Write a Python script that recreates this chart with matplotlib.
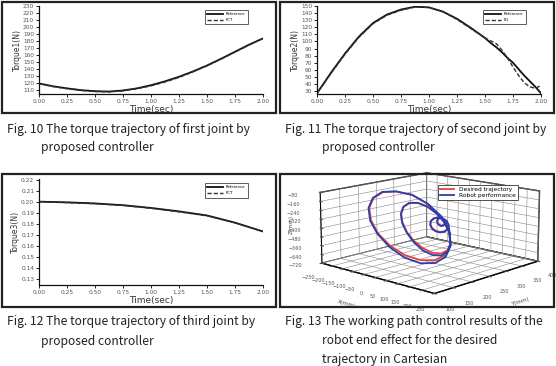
import matplotlib
matplotlib.use("Agg")
import matplotlib.pyplot as plt
from matplotlib.patches import Rectangle
from mpl_toolkits.mplot3d import Axes3D  # noqa

W, H = 556, 366

# ---------------- data ----------------
t = [0.0, 0.125, 0.25, 0.375, 0.5, 0.625, 0.75, 0.875, 1.0, 1.125, 1.25,
     1.375, 1.5, 1.625, 1.75, 1.875, 2.0]
torque1_ref = [120, 116, 113, 110.5, 109, 108.5, 110, 113, 117.5, 123, 129.5,
               137, 145.5, 155, 165, 175, 184]
torque1_fct = [119.5, 115.5, 112.5, 110, 108.5, 108, 109.5, 112.5, 116.5, 122, 128.5,
               136.5, 145, 154.5, 164.5, 174.5, 184]

t2 = [0.0, 0.125, 0.25, 0.375, 0.5, 0.625, 0.75, 0.875, 1.0, 1.125, 1.25,
      1.375, 1.5, 1.55, 1.6, 1.65, 1.7, 1.75, 1.8, 1.85, 1.9, 1.95, 2.0]
torque2_ref = [27, 56, 83, 107, 126, 138, 145, 149, 148, 142, 132,
               119, 105, 98, 92, 85, 77, 70, 61, 52, 44, 36, 27]
torque2_fd = [27, 55, 82, 106, 125, 137, 144, 148.5, 148, 142, 131,
              118, 105, 101, 97, 88, 77, 64, 52, 42, 36, 34, 38]

t3 = [0.0, 0.25, 0.5, 0.75, 1.0, 1.25, 1.5, 1.75, 2.0]
torque3_ref = [0.2000, 0.1994, 0.1984, 0.1968, 0.1943, 0.1912, 0.1875, 0.1810, 0.1730]
torque3_fct = [0.2000, 0.1991, 0.1981, 0.1966, 0.1940, 0.1908, 0.1872, 0.1808, 0.1730]

xticks_t = [0.0, 0.25, 0.5, 0.75, 1.0, 1.25, 1.5, 1.75, 2.0]
yticks1 = [110, 120, 130, 140, 150, 160, 170, 180, 190, 200, 210, 220, 230]
yticks2 = [30, 40, 50, 60, 70, 80, 90, 100, 110, 120, 130, 140, 150]
yticks3 = [0.13, 0.14, 0.15, 0.16, 0.17, 0.18, 0.19, 0.20, 0.21, 0.22]

# 3D working path (mm)
path_x = [156.6, 120.2, 61.8, -9.7, -83.9, -150.1, -198.8, -223.0, -219.1, -188.8,
          -136.7, -71.4, -3.4, 56.8, 99.3, 117.2,
          111.5, 87.8, 51.4, 7.0, -39.1, -79.9, -110.2, -125.6, -123.8, -106.3,
          -76.1, -38.0, 1.9, 36.5, 60.6, 69.8,
          57.5, 46.9, 27.6, 4.3, -18.1, -33.9, -39.9, -35.6, -22.5, -5.4, 10.8, 20.4,
          7.3, -1.1, -16.5, -31.9, -40.2, -38.1, -28.9, -19.7, -17.5]
path_y = [200, 202, 204, 206, 208, 210, 212, 214, 216, 218, 220, 222, 224, 226, 228, 230,
          232, 234, 236, 238, 240, 242, 244, 246, 248, 250, 252, 254, 256, 258, 260, 262,
          264, 266, 268, 270, 272, 274, 276, 278, 280, 282, 284, 286,
          288, 290, 292, 294, 296, 298, 300, 302, 304]
desired_z = [-321.3, -217.5, -135.5, -84.6, -82.0, -112.2, -186.0, -287.9, -403.0, -514.9,
             -605.2, -664.2, -679.8, -652.7, -587.0, -493.4,
             -388.0, -312.3, -247.2, -204.2, -189.2, -206.4, -252.9, -323.6, -406.5, -490.4,
             -563.7, -614.9, -638.1, -629.0, -590.6, -528.0,
             -359.2, -334.8, -322.0, -325.0, -344.3, -375.8, -411.8, -444.4, -465.3, -470.4,
             -459.3, -435.9,
             -377.7, -358.7, -353.8, -369.1, -397.1, -424.3, -437.4, -430.2, -410.2]
robot_x = [158.0, 121.5, 62.0, -11.0, -86.0, -153.0, -202.0, -227.0, -223.0, -192.0,
           -139.0, -72.0, -3.0, 58.0, 101.0, 118.5,
           112.5, 88.5, 51.0, 6.0, -40.5, -81.5, -112.0, -127.5, -125.5, -107.5,
           -77.0, -38.5, 2.5, 37.5, 61.5, 70.5,
           58.5, 47.5, 27.0, 3.5, -19.0, -35.0, -41.0, -36.5, -23.0, -5.5, 11.5, 21.0,
           8.0, -1.5, -17.0, -33.0, -41.0, -39.0, -29.5, -20.0, -17.5]
robot_z = [-323.0, -218.0, -135.0, -83.0, -81.0, -111.0, -186.0, -290.0, -408.0, -520.0,
           -620.0, -689.0, -708.0, -678.0, -602.0, -498.0,
           -390.0, -313.0, -247.0, -203.0, -188.0, -205.0, -253.0, -326.0, -410.0, -495.0,
           -576.0, -635.0, -660.0, -647.0, -600.0, -532.0,
           -361.0, -336.0, -322.0, -324.0, -344.0, -377.0, -414.0, -448.0, -470.0, -475.0,
           -463.0, -438.0,
           -379.0, -359.0, -353.0, -368.0, -397.0, -426.0, -440.0, -432.0, -411.0]
xticks3d = [-250, -200, -150, -100, -50, 0, 50, 100, 150, 200, 250]
yticks3d = [100, 150, 200, 250, 300, 350, 400]
zticks3d = [-720, -640, -560, -480, -400, -320, -240, -160, -80]

captions = [
    (7, 130, "Fig. 10 The torque trajectory of first joint by"),
    (41, 148, "proposed controller"),
    (285, 130, "Fig. 11 The torque trajectory of second joint by"),
    (322, 148, "proposed controller"),
    (7, 322, "Fig. 12 The torque trajectory of third joint by"),
    (41, 341, "proposed controller"),
    (285, 322, "Fig. 13 The working path control results of the"),
    (322, 341, "robot end effect for the desired"),
    (322, 360, "trajectory in Cartesian"),
]

# ---------------- figure ----------------
fig = plt.figure(figsize=(W / 100, H / 100), dpi=100)
fig.patch.set_facecolor("white")


def rect(l, t_, r, b):
    return [l / W, 1 - b / H, (r - l) / W, (b - t_) / H]


def torque_panel(box, x, ref, other, other_label, ylabel, yticks, ylim, fmt):
    ax = fig.add_axes(rect(*box))
    ax.plot(x, ref, color="#111111", lw=1.3, label="Reference")
    ax.plot(x, other, color="#333333", lw=1.0, ls=(0, (3, 1.5)), label=other_label)
    ax.set_xlim(0, 2.0)
    ax.set_ylim(*ylim)
    ax.set_xticks(xticks_t)
    ax.set_xticklabels(["%.2f" % v for v in xticks_t])
    ax.set_yticks(yticks)
    ax.set_yticklabels([fmt % v for v in yticks])
    for s in ["top", "right"]:
        ax.spines[s].set_visible(False)
    for s in ["left", "bottom"]:
        ax.spines[s].set_linewidth(0.9)
        ax.spines[s].set_color("#111111")
    ax.tick_params(labelsize=4.2, labelcolor="#555555", length=2, width=0.6, pad=1.5)
    ax.set_xlabel("Time(sec)", fontsize=6.5, color="#333333", labelpad=1)
    ax.set_ylabel(ylabel, fontsize=5.5, color="#333333", labelpad=1)
    leg = ax.legend(loc="upper right", fontsize=2.8, frameon=True, fancybox=False,
                    handlelength=4, borderpad=0.6, bbox_to_anchor=(0.94, 0.98))
    leg.get_frame().set_edgecolor("#333333")
    leg.get_frame().set_linewidth(0.7)
    return ax


torque_panel((39, 6, 263, 94), t, torque1_ref, torque1_fct, "FCT", "Torque1(N)",
             yticks1, (105, 230), "%d")
torque_panel((317, 6, 541, 94), t2, torque2_ref, torque2_fd, "FD", "Torque2(N)",
             yticks2, (26, 150), "%d")
torque_panel((39, 179, 263, 285), t3, torque3_ref, torque3_fct, "FCT", "Torque3(N)",
             yticks3, (0.1246, 0.2205), "%.2f")

# 3D panel
ax3 = fig.add_axes(rect(292, 163.5, 565, 294.5), projection="3d",
                   proj_type="persp", focal_length=1.4)
ax3.set_facecolor("none")
ax3.plot(path_x, path_y, desired_z, color="#e8413c", lw=1.3, label="Desired trajectory")
ax3.plot(robot_x, path_y, robot_z, color="#2a3fb0", lw=1.3, label="Robot performance")
ax3.set_xlim(-250, 250)
ax3.set_ylim(100, 400)
ax3.set_zlim(-720, -80)
ax3.set_xticks(xticks3d)
ax3.set_yticks(yticks3d)
ax3.set_zticks(zticks3d)
ax3.view_init(elev=13, azim=-47)
ax3.set_box_aspect((1, 1, 0.47), zoom=1.7)
ax3.zaxis._axinfo["juggled"] = (1, 2, 0)
ax3.tick_params(labelsize=3.5, pad=-2, colors="#555555")
ax3.set_xlabel("X(mm)", fontsize=4, labelpad=-9, color="#444444")
ax3.set_ylabel("Y(mm)", fontsize=4, labelpad=-9, color="#444444")
ax3.set_zlabel("")
for axis in (ax3.xaxis, ax3.yaxis, ax3.zaxis):
    axis.set_pane_color((1, 1, 1, 1))
    axis.pane.set_edgecolor("#111111")
    axis._axinfo["grid"]["color"] = "#888888"
    axis._axinfo["grid"]["linewidth"] = 0.4
    axis._axinfo["axisline"]["color"] = "#111111"
ax3.legend(loc="upper left", fontsize=4.2, frameon=True, fancybox=False,
           handlelength=2.5, bbox_to_anchor=(435 / W, 1 - 182 / H),
           bbox_transform=fig.transFigure, borderpad=0.3, labelspacing=0.2,
           edgecolor="#333333", framealpha=1).get_frame().set_linewidth(0.6)
fig.text(291 / W, 1 - 225 / H, "Z(mm)", fontsize=4, color="#444444", rotation=90,
         ha="center", va="center")

# frames (drawn last, on top)
for (l, t_, r, b) in [(2, 2, 276, 113), (280, 2, 554, 113),
                      (2, 174, 276, 307), (280, 174, 554, 307)]:
    fig.patches.append(Rectangle((l / W, 1 - b / H), (r - l) / W, (b - t_) / H,
                                 transform=fig.transFigure, fill=False,
                                 edgecolor="#222222", linewidth=1.6, zorder=10))

for (x, y, s) in captions:
    fig.text(x / W, 1 - y / H, s, fontsize=8.7, family=["Noto Sans CJK KR", "DejaVu Sans"],
             color="#222222", va="center", ha="left")

fig.savefig("out.png", dpi=100)
